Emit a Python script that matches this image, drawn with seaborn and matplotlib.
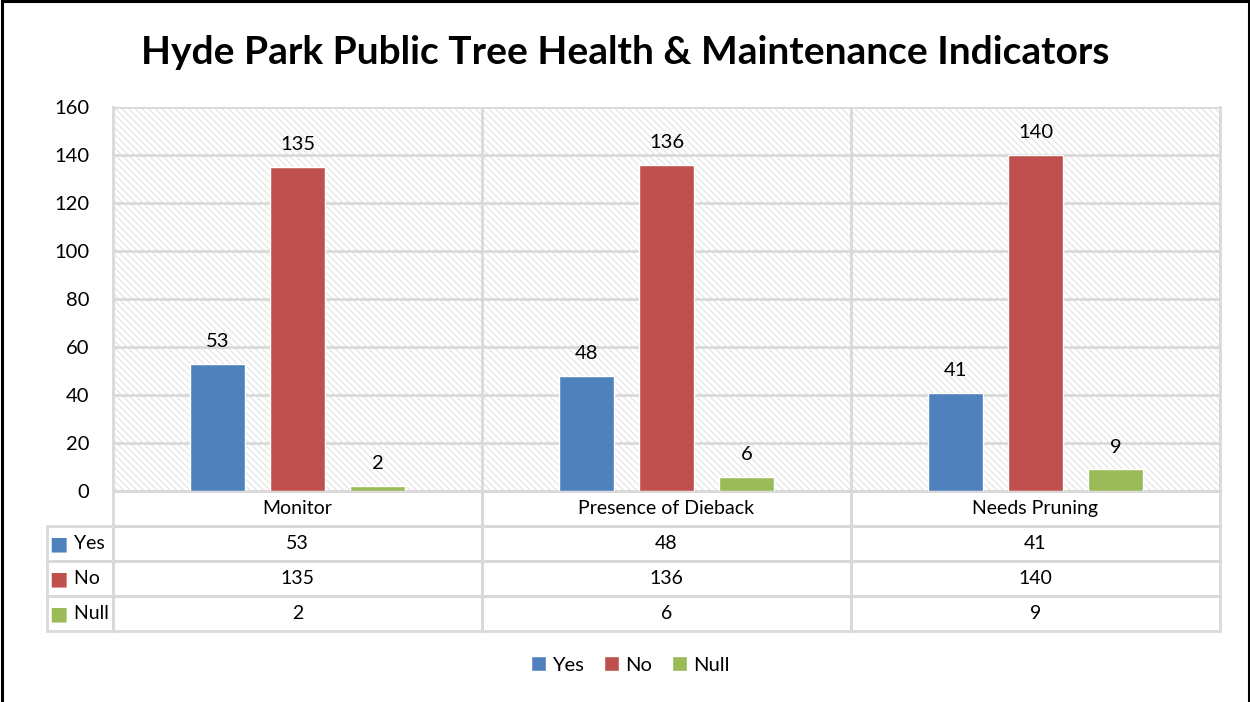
import matplotlib
matplotlib.use("Agg")
import matplotlib.pyplot as plt
from matplotlib.patches import Rectangle, Patch
from matplotlib.table import Table
import pandas as pd
import seaborn as sns

# Data
categories = ["Monitor", "Presence of Dieback", "Needs Pruning"]
statuses = ["Yes", "No", "Null"]
yes_vals = [53, 48, 41]
no_vals = [135, 136, 140]
null_vals = [2, 6, 9]
colors = ["#4F81BD", "#C0504D", "#9BBB59"]
y_ticks = [0, 20, 40, 60, 80, 100, 120, 140, 160]

GRID = "#d9d9d9"

sns.set_theme(style="white")
plt.rcParams["font.family"] = ["Lato", "DejaVu Sans"]
plt.rcParams["text.color"] = "black"

df = pd.DataFrame({
    "category": categories * 3,
    "status": [s for s in statuses for _ in categories],
    "value": yes_vals + no_vals + null_vals,
})

fig = plt.figure(figsize=(12.5, 7.02), dpi=100)
ax = fig.add_axes([113 / 1250, 1 - 491 / 702, 1107 / 1250, 384 / 702])

# hatched background
plt.rcParams["hatch.linewidth"] = 0.8
bg = Rectangle((0, 0), 1, 1, transform=ax.transAxes, facecolor="white",
               edgecolor="#e2e2e2", hatch="\\\\\\\\\\", lw=0, zorder=0)
ax.add_patch(bg)

sns.barplot(data=df, x="category", y="value", hue="status", hue_order=statuses,
            order=categories, palette=colors, saturation=1, width=0.65, gap=0.31,
            legend=False, ax=ax, zorder=3)

for c in ax.containers:
    ax.bar_label(c, padding=10, fontsize=14.5, color="black")

ax.set_ylim(0, 160)
ax.set_xlim(-0.5, 2.5)
ax.set_yticks(y_ticks)
ax.tick_params(axis="y", length=0, pad=17, labelsize=14.5, labelcolor="black")
ax.set_xticks([])
ax.set_xlabel("")
ax.set_ylabel("")
ax.grid(False)
for t in y_ticks[1:]:
    ax.axhline(t, color=GRID, lw=2, zorder=1)
for xv in [0.5, 1.5]:
    ax.axvline(xv, color=GRID, lw=2, zorder=1)
for s in ax.spines.values():
    s.set_color(GRID)
    s.set_linewidth(2)
ax.spines["top"].set_visible(False)

# data table under the axis
w0 = 66 / 1107
H = 140 / 384
rh = H / 4
tbl = Table(ax, bbox=[-w0, -H, 1 + w0, H])
rows = [yes_vals, no_vals, null_vals]
for j, cat in enumerate(categories):
    tbl.add_cell(0, j + 1, width=1 / 3, height=rh, text=cat, loc="center",
                 edgecolor=GRID, facecolor="none")
corner = tbl.add_cell(0, 0, width=w0, height=rh, text="", edgecolor=GRID, facecolor="none")
corner.visible_edges = ""
for i, (lab, vals) in enumerate(zip(statuses, rows)):
    tbl.add_cell(i + 1, 0, width=w0, height=rh, text="    " + lab, loc="left",
                 edgecolor=GRID, facecolor="none")
    for j, v in enumerate(vals):
        tbl.add_cell(i + 1, j + 1, width=1 / 3, height=rh, text=str(v), loc="center",
                     edgecolor=GRID, facecolor="none")
tbl.auto_set_font_size(False)
tbl.set_fontsize(14)
for cell in tbl.get_celld().values():
    cell.set_linewidth(2)
    cell.get_text().set_color("black")
ax.add_table(tbl)

for i, col in enumerate(colors):
    ax.text(-w0 + 11 / 1107, -(i + 1.5) * rh, "■", color=col, fontsize=14,
            ha="center", va="center", transform=ax.transAxes, clip_on=False,
            family=["DejaVu Sans"])

# title and legend
fig.suptitle("Hyde Park Public Tree Health & Maintenance Indicators",
             x=0.5, y=1 - 52 / 702, va="center", fontsize=28, fontweight="bold",
             color="black")
handles = [Patch(facecolor=c, label=s) for c, s in zip(colors, statuses)]
fig.legend(handles=handles, loc="center", bbox_to_anchor=(0.504, 1 - 665 / 702),
           ncol=3, frameon=False, fontsize=14.5, handlelength=0.75, handleheight=0.75,
           handletextpad=0.3, columnspacing=1.0, labelcolor="black")

# outer border
fig.patches.append(Rectangle((0.0015, -0.05), 0.9975, 1.048, transform=fig.transFigure,
                             fill=False, edgecolor="black", lw=2.2))

fig.savefig("out.png", dpi=100)
